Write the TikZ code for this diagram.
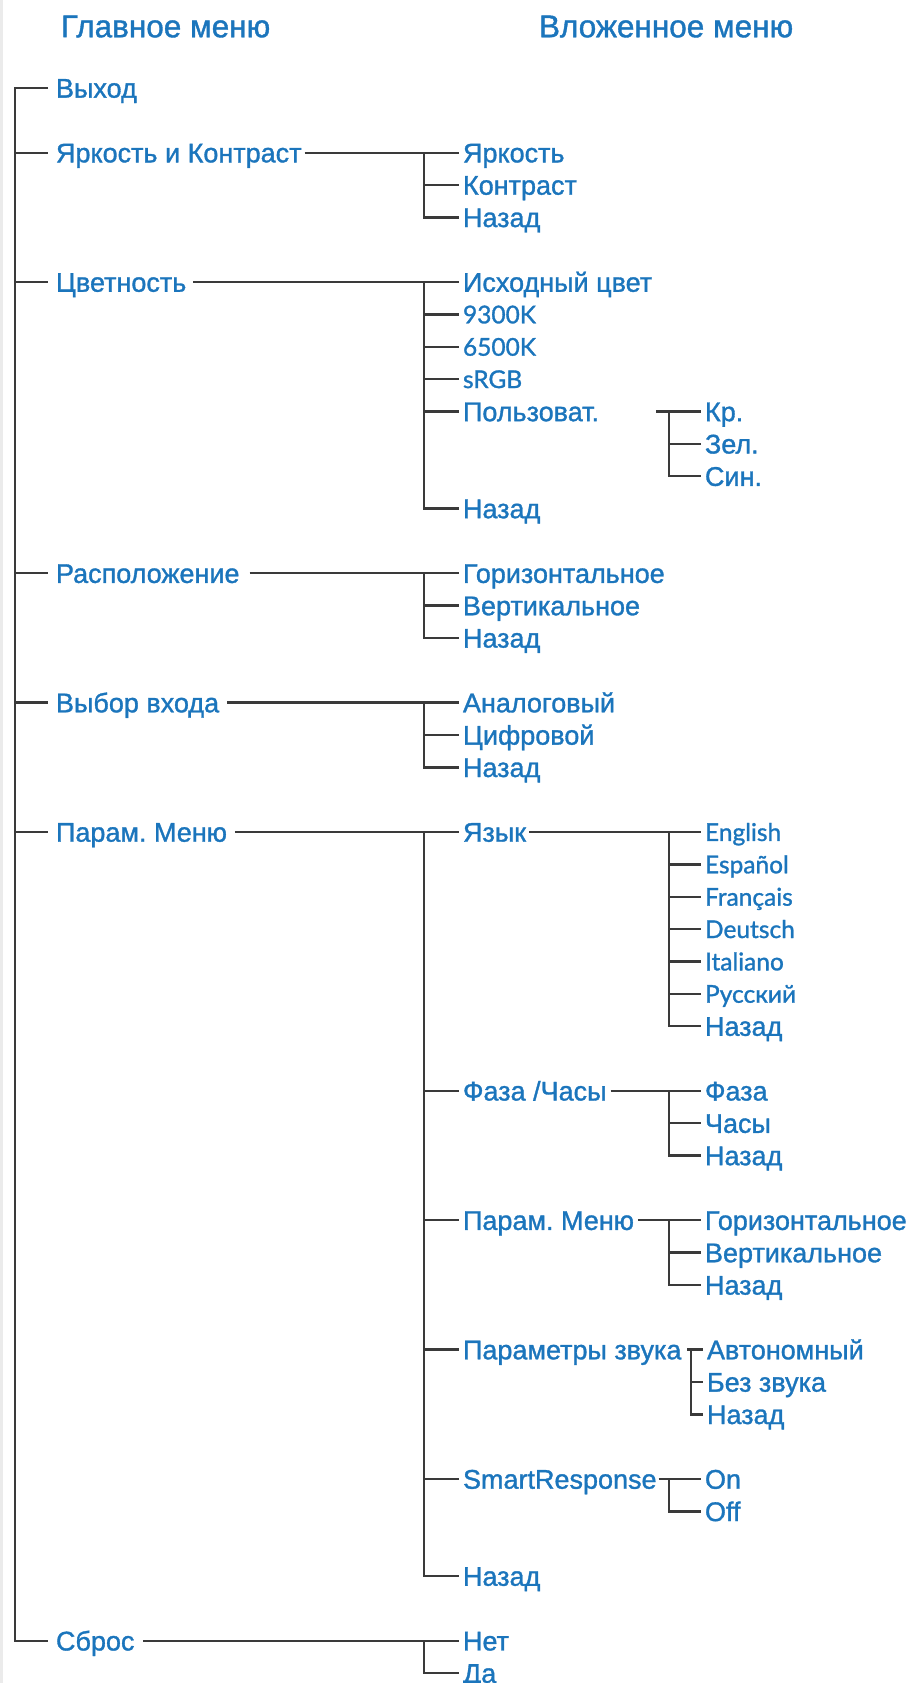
\documentclass[tikz,border=0pt]{standalone}
\usepackage{fontspec}
\setmainfont{Liberation Sans}
\newfontfamily\medfam{Liberation Sans}[BoldFont={Liberation Sans}, BoldFeatures={FakeBold=1.2}]
\newfontfamily\gillfam{Lato}[BoldFont={Lato}, BoldFeatures={FakeBold=1.2}]
\definecolor{mblue}{HTML}{1B75BC}
\definecolor{lcol}{HTML}{3A3A3A}
\newcommand\mainf{\medfam\bfseries\fontsize{27}{27}\selectfont}
\newcommand\gillf{\gillfam\bfseries\fontsize{24.5}{24.5}\selectfont}
\newcommand\titlef{\medfam\bfseries\fontsize{31.5}{31.5}\selectfont}
\tikzset{
  lbl/.style={anchor=west, inner sep=0pt, outer sep=0pt, text=mblue, font=\mainf, text height=19.3pt, text depth=0pt},
  gl/.style={lbl, font=\gillf, text height=17.8pt},
  ttl/.style={lbl, font=\titlef, text height=22.5pt},
  ln/.style={draw=lcol, line width=2.4pt},
}
\begin{document}
\begin{tikzpicture}[x=1pt,y=-32.35pt]
\useasboundingbox (0,0) rectangle (909,52.025);
\fill[black!8] (0,0) rectangle (3,52.025);
% titles
\node[ttl] (h1) at (61,0.804) {Главное меню};
\node[ttl] (h2) at (539,0.804) {Вложенное меню};
\begin{scope}[yshift=-88pt]
% main items
\node[lbl] (m0) at (56,0) {Выход};
\node[lbl] (m1) at (56,2) {Яркость и Контраст};
\node[lbl] (m2) at (56,6) {Цветность};
\node[lbl] (m3) at (56,15) {Расположение};
\node[lbl] (m4) at (56,19) {Выбор входа};
\node[lbl] (m5) at (56,23) {Парам.\ Меню};
\node[lbl] (m6) at (56,48) {Сброс};
\coordinate (trunkTop) at (15,0);
\coordinate (trunkBot) at (15,48);
\draw[ln] ([xshift=-8pt]m0.west) -- (trunkTop) -- (trunkBot) -- ([xshift=-8pt]m6.west);
\foreach \m in {m1,m2,m3,m4,m5}{\draw[ln] (trunkTop |- \m.west) -- ([xshift=-8pt]\m.west);}
% submenus
\node[lbl] (s1a) at (463,2) {Яркость};
\node[lbl] (s1b) at (463,3) {Контраст};
\node[lbl] (s1c) at (463,4) {Назад};
\node[lbl] (s2a) at (463,6) {Исходный цвет};
\node[gl]  (s2b) at (463,7) {9300K};
\node[gl]  (s2c) at (463,8) {6500K};
\node[gl]  (s2d) at (463,9) {sRGB};
\node[lbl] (s2e) at (463,10) {Пользоват.};
\node[lbl] (s2f) at (463,13) {Назад};
\node[lbl] (s3a) at (463,15) {Горизонтальное};
\node[lbl] (s3b) at (463,16) {Вертикальное};
\node[lbl] (s3c) at (463,17) {Назад};
\node[lbl] (s4a) at (463,19) {Аналоговый};
\node[lbl] (s4b) at (463,20) {Цифровой};
\node[lbl] (s4c) at (463,21) {Назад};
\node[lbl] (s5a) at (463,23) {Язык};
\node[lbl] (s5b) at (463,31) {Фаза /Часы};
\node[lbl] (s5c) at (463,35) {Парам.\ Меню};
\node[lbl] (s5d) at (463,39) {Параметры звука};
\node[lbl] (s5e) at (463,43) {SmartResponse};
\node[lbl] (s5f) at (463,46) {Назад};
\node[lbl] (s6a) at (463,48) {Нет};
\node[lbl] (s6b) at (463,49) {Да};
% main -> sub
\draw[ln] ([xshift=3pt]m1.east) -- ([xshift=-4pt]s1a.west);
\draw[ln] ([xshift=7pt]m2.east) -- ([xshift=-4pt]s2a.west);
\draw[ln] ([xshift=10pt]m3.east) -- ([xshift=-4pt]s3a.west);
\draw[ln] ([xshift=8pt]m4.east) -- ([xshift=-4pt]s4a.west);
\draw[ln] ([xshift=8pt]m5.east) -- ([xshift=-4pt]s5a.west);
\draw[ln] ([xshift=9pt]m6.east) -- ([xshift=-4pt]s6a.west);
% sub verticals and ticks
\draw[ln] ([xshift=-39pt]s1a.west) |- ([xshift=-4pt]s1c.west);
\draw[ln] ([xshift=-39pt]s1b.west) -- ([xshift=-4pt]s1b.west);
\draw[ln] ([xshift=-39pt]s2a.west) |- ([xshift=-4pt]s2f.west);
\foreach \s in {s2b,s2c,s2d,s2e}{\draw[ln] ([xshift=-39pt]\s.west) -- ([xshift=-4pt]\s.west);}
\draw[ln] ([xshift=-39pt]s3a.west) |- ([xshift=-4pt]s3c.west);
\draw[ln] ([xshift=-39pt]s3b.west) -- ([xshift=-4pt]s3b.west);
\draw[ln] ([xshift=-39pt]s4a.west) |- ([xshift=-4pt]s4c.west);
\draw[ln] ([xshift=-39pt]s4b.west) -- ([xshift=-4pt]s4b.west);
\draw[ln] ([xshift=-39pt]s5a.west) |- ([xshift=-4pt]s5f.west);
\foreach \s in {s5b,s5c,s5d,s5e}{\draw[ln] ([xshift=-39pt]\s.west) -- ([xshift=-4pt]\s.west);}
\draw[ln] ([xshift=-39pt]s6a.west) |- ([xshift=-4pt]s6b.west);
% third level: Пользоват.
\node[lbl] (t2a) at (705,10) {Кр.};
\node[lbl] (t2b) at (705,11) {Зел.};
\node[lbl] (t2c) at (705,12) {Син.};
\draw[ln] ([xshift=-49pt]t2a.west) -- ([xshift=-4pt]t2a.west);
\draw[ln] ([xshift=-36pt]t2a.west) |- ([xshift=-4pt]t2c.west);
\draw[ln] ([xshift=-36pt]t2b.west) -- ([xshift=-4pt]t2b.west);
% Язык
\node[gl]  (ya) at (705,23) {English};
\node[gl]  (yb) at (705,24) {Español};
\node[gl]  (yc) at (705,25) {Français};
\node[gl]  (yd) at (705,26) {Deutsch};
\node[gl]  (ye) at (705,27) {Italiano};
\node[gl]  (yf) at (705,28) {Русский};
\node[lbl] (yg) at (705,29) {Назад};
\draw[ln] ([xshift=3pt]s5a.east) -- ([xshift=-4pt]ya.west);
\draw[ln] ([xshift=-36pt]ya.west) |- ([xshift=-4pt]yg.west);
\foreach \s in {yb,yc,yd,ye,yf}{\draw[ln] ([xshift=-36pt]\s.west) -- ([xshift=-4pt]\s.west);}
% Фаза /Часы
\node[lbl] (fa) at (705,31) {Фаза};
\node[lbl] (fb) at (705,32) {Часы};
\node[lbl] (fc) at (705,33) {Назад};
\draw[ln] ([xshift=4pt]s5b.east) -- ([xshift=-4pt]fa.west);
\draw[ln] ([xshift=-36pt]fa.west) |- ([xshift=-4pt]fc.west);
\draw[ln] ([xshift=-36pt]fb.west) -- ([xshift=-4pt]fb.west);
% Парам. Меню
\node[lbl] (pa) at (705,35) {Горизонтальное};
\node[lbl] (pb) at (705,36) {Вертикальное};
\node[lbl] (pc) at (705,37) {Назад};
\draw[ln] ([xshift=4pt]s5c.east) -- ([xshift=-4pt]pa.west);
\draw[ln] ([xshift=-36pt]pa.west) |- ([xshift=-4pt]pc.west);
\draw[ln] ([xshift=-36pt]pb.west) -- ([xshift=-4pt]pb.west);
% Параметры звука
\node[lbl] (za) at (707,39) {Автономный};
\node[lbl] (zb) at (707,40) {Без звука};
\node[lbl] (zc) at (707,41) {Назад};
\draw[ln] ([xshift=-20pt]za.west) -- ([xshift=-4pt]za.west);
\draw[ln] ([xshift=-16pt]za.west) |- ([xshift=-4pt]zc.west);
\draw[ln] ([xshift=-16pt]zb.west) -- ([xshift=-4pt]zb.west);
% SmartResponse
\node[lbl] (oa) at (705,43) {On};
\node[lbl] (ob) at (705,44) {Off};
\draw[ln] ([xshift=2pt]s5e.east) -- ([xshift=-4pt]oa.west);
\draw[ln] ([xshift=-36pt]oa.west) |- ([xshift=-4pt]ob.west);
\end{scope}
\end{tikzpicture}
\end{document}
